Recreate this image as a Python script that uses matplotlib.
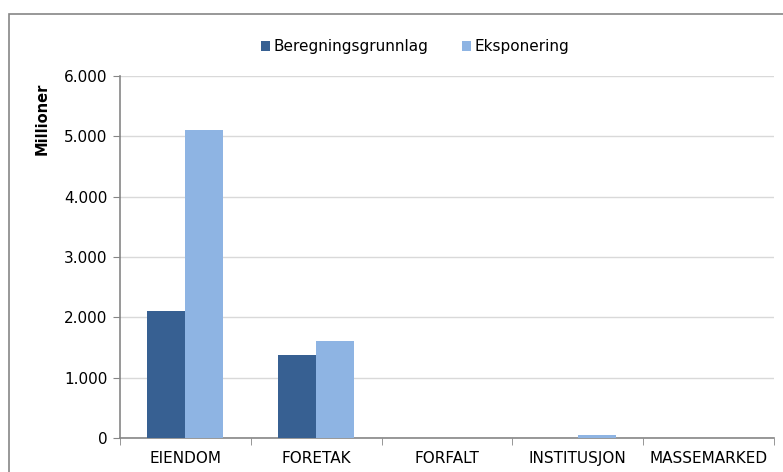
import matplotlib.pyplot as plt
import numpy as np
from matplotlib.patches import Rectangle
from matplotlib.ticker import FuncFormatter

### Data ###
categories = ['EIENDOM', 'FORETAK', 'FORFALT', 'INSTITUSJON', 'MASSEMARKED']
beregningsgrunnlag = [2110, 1380, 0, 0, 0]
eksponering = [5100, 1600, 0, 55, 0]

col_dark = '#376092'
col_light = '#8EB4E3'

plt.rcParams['font.family'] = ['DejaVu Sans']

fig = plt.figure(figsize=(7.83, 4.72), dpi=100)
ax = fig.add_axes([0.1533, 0.072, 0.835, 0.767])

### Outer border ###
fig.patches.append(Rectangle((9 / 783, -0.05), 1.1, (472 - 14) / 472 + 0.05,
                             transform=fig.transFigure, fill=False,
                             edgecolor='#868686', linewidth=1.2))

x = np.arange(len(categories))
w = 0.29
ax.bar(x - w / 2, beregningsgrunnlag, w, color=col_dark, label='Beregningsgrunnlag', zorder=3)
ax.bar(x + w / 2, eksponering, w, color=col_light, label='Eksponering', zorder=3)

ax.set_xlim(-0.5, len(categories) - 0.5)
ax.set_ylim(0, 6000)
ax.set_yticks(np.arange(0, 6001, 1000))
ax.yaxis.set_major_formatter(FuncFormatter(lambda v, p: f'{int(v):,}'.replace(',', '.')))
ax.grid(axis='y', color='#D9D9D9', linewidth=1, zorder=0)

# category labels centered, ticks at boundaries
ax.set_xticks(x)
ax.set_xticklabels(categories, fontsize=11)
ax.tick_params(axis='x', length=0, pad=9)
ax.set_xticks(np.arange(-0.5, len(categories), 1), minor=True)
ax.tick_params(axis='x', which='minor', length=5, color='#868686', direction='out')
ax.tick_params(axis='y', labelsize=11, length=5, color='#868686', direction='out', pad=4)

for s in ['top', 'right']:
    ax.spines[s].set_visible(False)
for s in ['left', 'bottom']:
    ax.spines[s].set_color('#868686')
    ax.spines[s].set_linewidth(1.2)

fig.text(42 / 783, 1 - 119 / 472, 'Millioner', rotation=90, fontsize=10.5,
         fontweight='bold', ha='center', va='center')

leg = fig.legend(loc='center', bbox_to_anchor=(415 / 783, 1 - 47 / 472), ncol=2,
                 frameon=False, fontsize=11, handlelength=0.6, handleheight=0.6,
                 handletextpad=0.2, columnspacing=2.2)

fig.savefig('out.png', dpi=100)
